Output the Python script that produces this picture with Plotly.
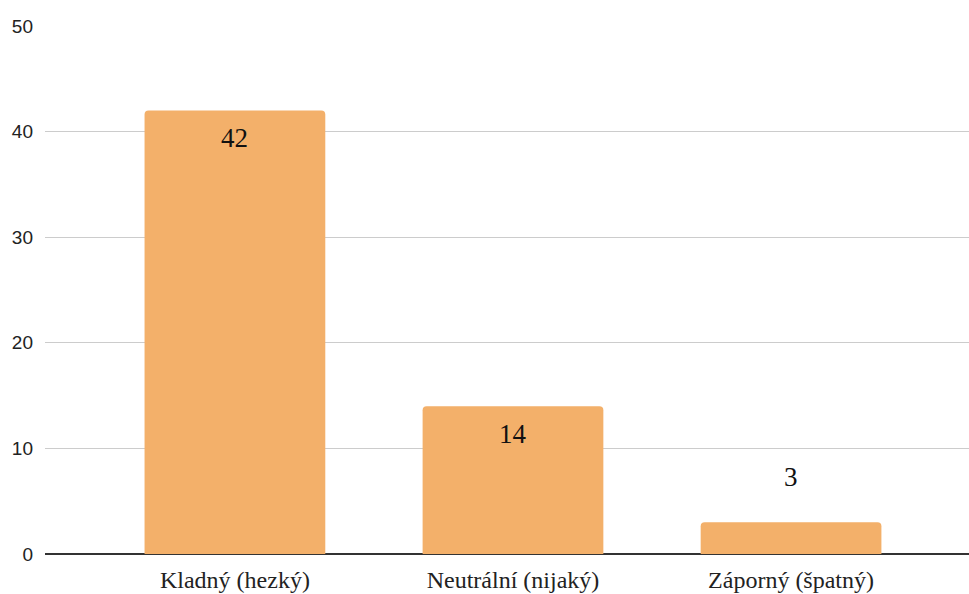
import plotly.graph_objects as go

categories = ["Kladný (hezký)", "Neutrální (nijaký)", "Záporný (špatný)"]
values = [42, 14, 3]
y_ticks = [0, 10, 20, 30, 40, 50]

BAR_COLOR = "#F3B06A"
SERIF = "Liberation Serif"
SANS = "Liberation Sans"

fig = go.Figure(
    go.Bar(
        x=categories,
        y=values,
        width=0.65,
        marker={"color": BAR_COLOR, "cornerradius": 4, "line": {"width": 0}},
        hoverinfo="x+y",
    )
)

# value labels: inside near the top for tall bars, above for short ones
for cat, val in zip(categories, values):
    inside = val >= 10
    fig.add_annotation(
        x=cat,
        y=val,
        text=str(val),
        showarrow=False,
        yshift=-28 if inside else 45,
        font={"family": SERIF, "size": 27, "color": "#111"},
    )

fig.update_layout(
    width=969,
    height=594,
    plot_bgcolor="white",
    paper_bgcolor="white",
    showlegend=False,
    margin={"l": 45, "r": 0, "t": 26, "b": 40},
    xaxis={
        "range": [-0.683, 2.64],
        "showgrid": False,
        "showline": False,
        "ticks": "",
        "ticklabelstandoff": 9,
        "tickfont": {"family": SERIF, "size": 24, "color": "#222"},
    },
    yaxis={
        "range": [0, 50],
        "tickvals": y_ticks,
        "showgrid": True,
        "gridcolor": "#CCCCCC",
        "gridwidth": 1,
        "zeroline": True,
        "zerolinecolor": "#333333",
        "zerolinewidth": 1.5,
        "ticks": "",
        "ticklabelstandoff": 11,
        "tickfont": {"family": SANS, "size": 19, "color": "#222"},
    },
)

fig.write_html(
    "out.html",
    config={"displayModeBar": False},
    post_script="document.body.style.margin='0';document.body.style.overflow='hidden';",
)
